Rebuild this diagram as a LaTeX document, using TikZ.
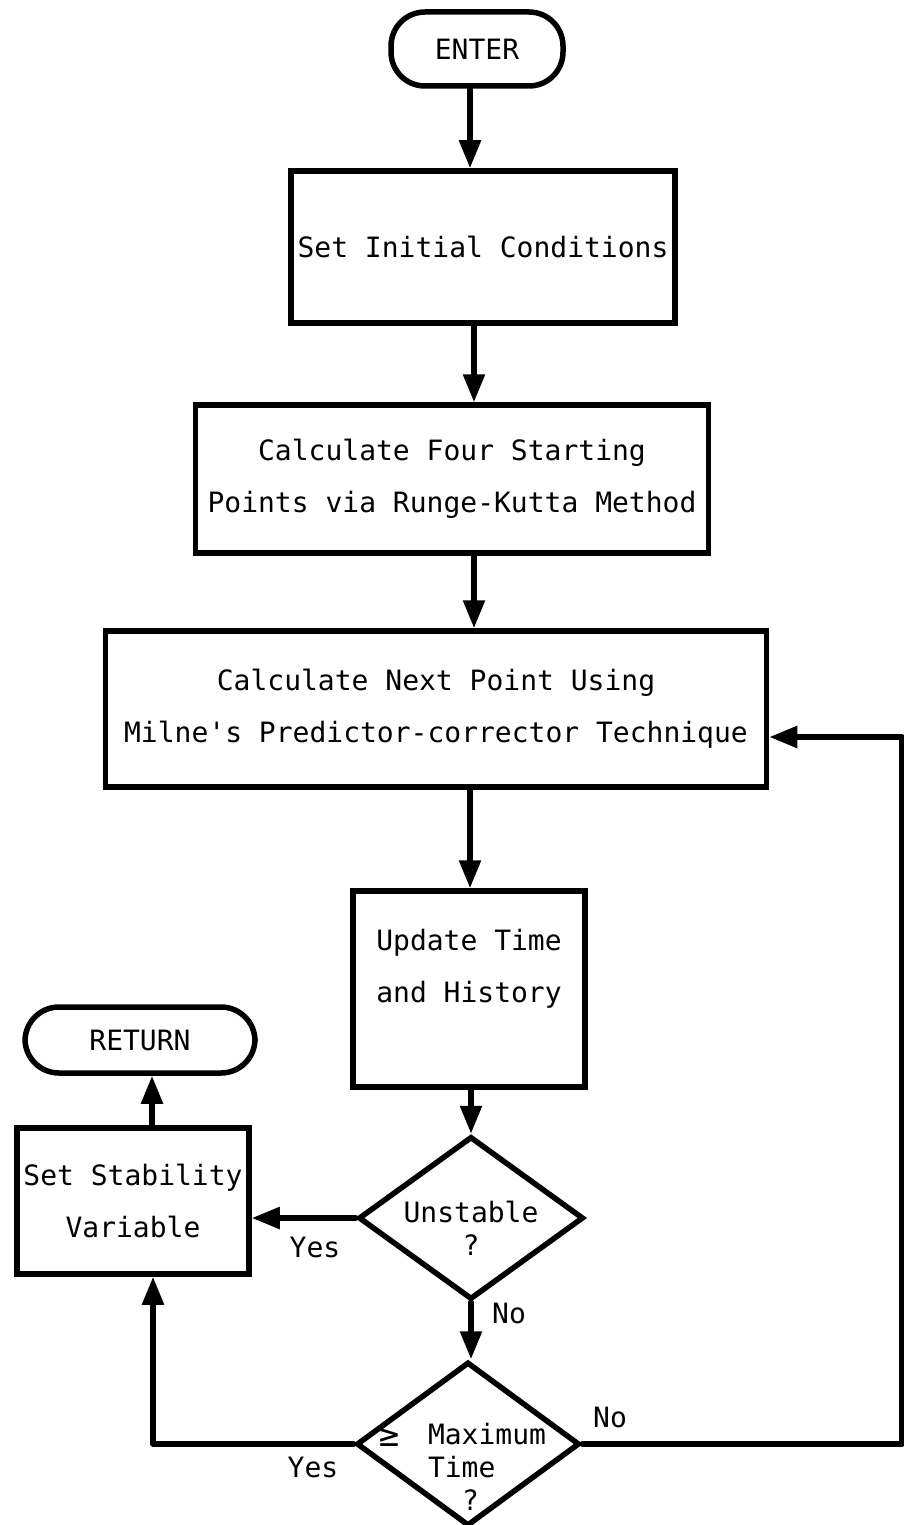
\documentclass[tikz,border=0pt]{standalone}
\usepackage{fontspec}
\newfontfamily\typer{DejaVu Sans Mono}
\usetikzlibrary{shapes.geometric,arrows.meta}
\begin{document}
\begin{tikzpicture}[x=1pt,y=-1pt,
  every node/.style={font=\typer\fontsize{28}{52}\selectfont},
  line/.style={line width=5.5pt,line cap=round,line join=round},
  arr/.style={line, -{Triangle[length=28pt,width=21pt]}},
  procbox/.style={draw,line width=5.5pt,rectangle,align=center,inner sep=0pt},
  terminal/.style={draw,line width=5.5pt,rectangle,rounded corners=34pt,inner sep=0pt},
  decision/.style={draw,line width=5.5pt,diamond,inner sep=0pt},
  dtext/.style={font=\typer\fontsize{28}{33}\selectfont},
  lbl/.style={font=\typer\fontsize{28}{33}\selectfont,inner sep=0pt}]
\useasboundingbox (0,0) rectangle (904,1525);

% terminals
\node[terminal,minimum width=172pt,minimum height=74pt] (enter) at (477,49) {ENTER};
\node[terminal,minimum width=230pt,minimum height=66pt] (ret) at (140,1040) {RETURN};

% process boxes
\node[procbox,minimum width=384pt,minimum height=152pt] (init) at (483,247) {Set Initial Conditions};
\node[procbox,minimum width=513pt,minimum height=148pt] (rk) at (452,479)
  {Calculate Four Starting\\Points via Runge-Kutta Method};
\node[procbox,minimum width=661pt,minimum height=156pt] (milne) at (436,709)
  {Calculate Next Point Using\\Milne's Predictor-corrector Technique};
\node[procbox,minimum width=232pt,minimum height=196pt,
  label={[align=center,yshift=20pt]center:Update Time\\and History}] (update) at (469,989) {};
\node[procbox,minimum width=232pt,minimum height=146pt] (stab) at (133,1201)
  {Set Stability\\Variable};

% decisions
\node[decision,minimum width=225pt,minimum height=163pt,
  label={[dtext,align=center,yshift=-10pt]center:Unstable\\?}] (unst) at (471,1218) {};
\node[decision,minimum width=223pt,minimum height=164pt,
  label={[dtext,align=left,xshift=19pt,yshift=-23pt]center:Maximum\\Time\\\hspace*{34pt}?}] (maxt) at (468,1444) {};
\node[inner sep=0pt,font=\typer\fontsize{34}{40}\selectfont] (geq) at (389,1437) {≥};

% main flow
\draw[arr] ([xshift=-7pt]enter.south) -- ([xshift=-7pt]enter.south |- init.north);
\draw[arr] ([xshift=-9pt]init.south) -- ([xshift=-9pt]init.south |- rk.north);
\draw[arr] ([xshift=22pt]rk.south) -- ([xshift=22pt]rk.south |- milne.north);
\draw[arr] ([xshift=34pt]milne.south) -- ([xshift=34pt]milne.south |- update.north);
\draw[arr] (unst.north |- update.south) -- (unst.north);
\draw[arr] (unst.south) -- (unst.south |- maxt.north);

% branches
\draw[arr] (unst.west) -- (unst.west -| stab.east);
\node[lbl] (yes1) at (315,1247) {Yes};
\node[lbl] (no1) at (509,1313) {No};

\draw[arr] (maxt.west) -| ([xshift=20pt]stab.south);
\node[lbl] (yes2) at (313,1467) {Yes};

\coordinate (loopcorner) at (902,1444);
\draw[arr] (maxt.east) -- (loopcorner) |- ([yshift=-28pt]milne.east);
\node[lbl] (no2) at (610,1417) {No};

\draw[arr] ([xshift=19pt]stab.north) -- ([xshift=19pt]stab.north |- ret.south);
\end{tikzpicture}
\end{document}
